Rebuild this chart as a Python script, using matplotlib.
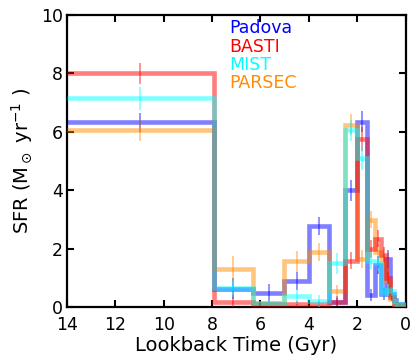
import numpy as np
import matplotlib
matplotlib.use("Agg")
import matplotlib.pyplot as plt

# Bin edges (lookback time, Gyr)
edges = [14.0, 7.94, 6.31, 5.01, 3.98, 3.16, 2.51, 2.0, 1.58, 1.26, 1.0, 0.79, 0.63, 0.5, 0.4, 0.32, 0.0]

padova = [6.33, 0.64, 0.50, 0.90, 2.79, 0.18, 4.00, 6.35, 0.42, 1.45, 0.45, 1.65, 0.45, 0.25, 0.12, 0.10]
padova_err = [0.32, 0.35, 0.30, 0.30, 0.30, 0.20, 0.37, 0.37, 0.20, 0.30, 0.20, 0.30, 0.20, 0.10, 0.05, 0.05]

basti = [8.00, 0.17, 0.12, 0.12, 0.12, 0.18, 1.60, 5.75, 2.00, 2.35, 1.80, 1.00, 0.35, 0.12, 0.08, 0.08]
basti_err = [0.35, 0.25, 0.10, 0.10, 0.10, 0.15, 0.30, 0.40, 0.30, 0.30, 0.25, 0.20, 0.15, 0.05, 0.05, 0.05]

mist = [7.15, 0.65, 0.15, 0.38, 0.22, 1.50, 6.05, 5.10, 1.60, 1.50, 0.50, 0.60, 0.55, 0.20, 0.10, 0.10]
mist_err = [0.40, 0.30, 0.10, 0.25, 0.20, 0.35, 0.35, 0.40, 0.30, 0.25, 0.15, 0.20, 0.15, 0.08, 0.05, 0.05]

parsec = [6.05, 1.30, 0.15, 1.57, 1.90, 0.55, 6.25, 1.65, 3.00, 1.90, 1.60, 0.90, 0.30, 0.12, 0.08, 0.08]
parsec_err = [0.35, 0.45, 0.10, 0.35, 0.30, 0.20, 0.35, 0.30, 0.30, 0.25, 0.20, 0.20, 0.10, 0.05, 0.05, 0.05]

models = ["Padova", "BASTI", "MIST", "PARSEC"]
colors = {"Padova": "blue", "BASTI": "red", "MIST": "cyan", "PARSEC": "darkorange"}
data = {"Padova": (padova, padova_err), "BASTI": (basti, basti_err),
        "MIST": (mist, mist_err), "PARSEC": (parsec, parsec_err)}
draw_order = ["Padova", "PARSEC", "BASTI", "MIST"]

fig = plt.figure(figsize=(4.16, 3.62), dpi=100)
ax = fig.add_axes([0.161, 0.151, 0.814, 0.808])

e = np.array(edges)
centers = 0.5 * (e[:-1] + e[1:])
for i, name in enumerate(draw_order):
    vals, errs = data[name]
    v = np.array(vals)
    c = colors[name]
    ax.stairs(v, e, color=c, lw=3.3, alpha=0.5, baseline=None, zorder=2 + i)
    ax.errorbar(centers, v, yerr=errs, fmt="none", ecolor=c, elinewidth=1.2,
                alpha=0.5, capsize=0, zorder=2 + i)

ax.set_xlim(14, 0)
ax.set_ylim(0, 10)
ax.set_xticks([14, 12, 10, 8, 6, 4, 2, 0])
ax.set_yticks([0, 2, 4, 6, 8, 10])
ax.tick_params(direction="in", top=True, right=True, length=5, width=1.5,
               labelsize=12.5)
ax.tick_params(axis="x", pad=6.5)
ax.tick_params(axis="y", pad=3)
for s in ax.spines.values():
    s.set_linewidth(1.6)

ax.set_xlabel("Lookback Time (Gyr)", fontsize=14, labelpad=1)
ax.set_ylabel(r"SFR (M$_\odot$ yr$^{-1}$ )", fontsize=14, labelpad=4)

ys = [0.937, 0.874, 0.812, 0.751]
for name, y in zip(models, ys):
    ax.text(0.48, y, name, color=colors[name], fontsize=12.5,
            transform=ax.transAxes, va="baseline", ha="left")

fig.savefig("out.png", dpi=100)
